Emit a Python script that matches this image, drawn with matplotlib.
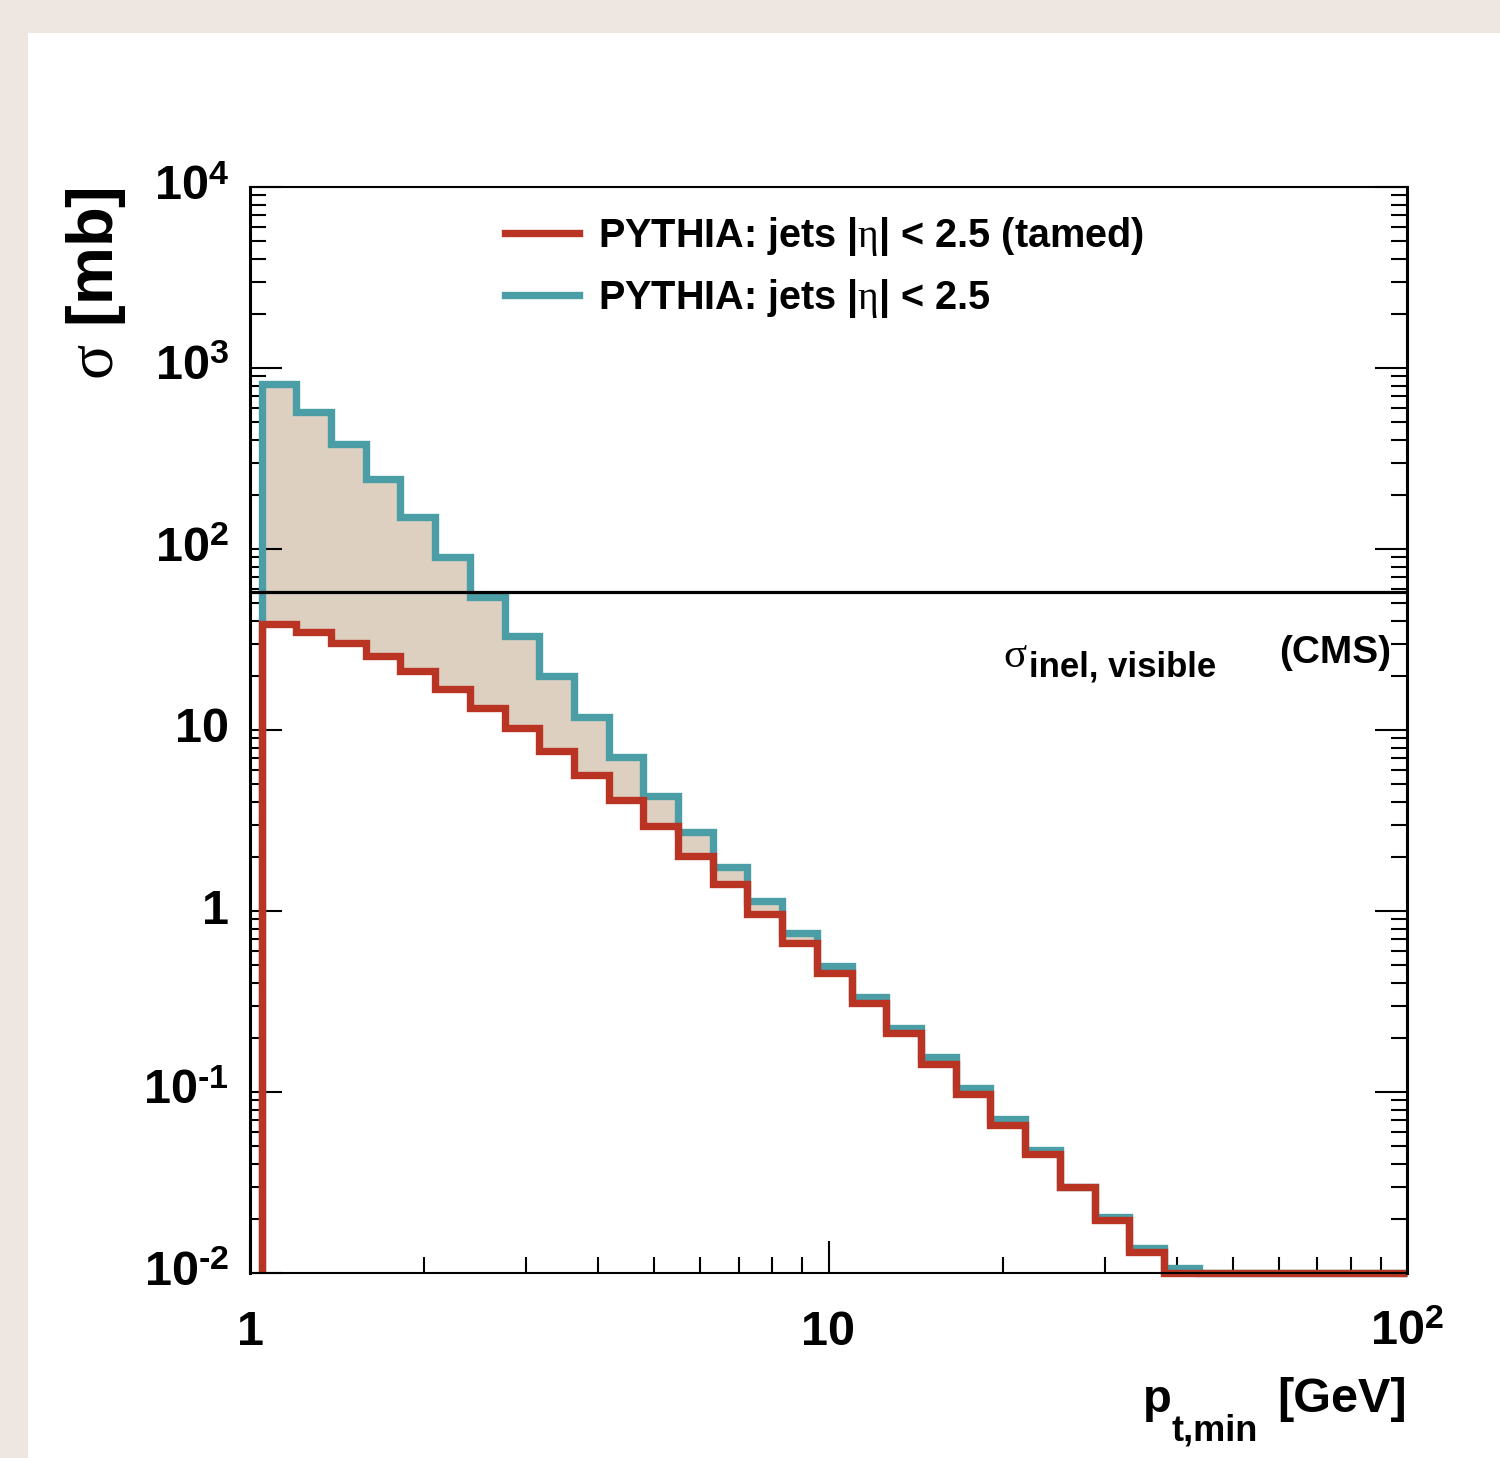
import numpy as np
import matplotlib
matplotlib.use('Agg')
import matplotlib.pyplot as plt
from matplotlib.lines import Line2D
from matplotlib.patches import Rectangle
from matplotlib.ticker import LogLocator, NullFormatter, FixedLocator

# bin edges in p_t,min [GeV] (log spaced), last bin runs to the axis end
edges = [1.047, 1.202, 1.380, 1.585, 1.820, 2.089, 2.399, 2.754, 3.162, 3.631,
         4.169, 4.786, 5.495, 6.310, 7.244, 8.318, 9.550, 10.96, 12.59, 14.45,
         16.60, 19.05, 21.88, 25.12, 28.84, 33.11, 38.02, 43.65, 100.0]

# sigma [mb] per bin
sigma_full = [817, 571, 380, 244, 150, 90, 54, 33, 19.9, 11.8,
              7.1, 4.3, 2.73, 1.75, 1.13, 0.755, 0.497, 0.335, 0.226, 0.156,
              0.105, 0.071, 0.0478, 0.030, 0.0204, 0.0137, 0.0107, 0]
sigma_tamed = [38.5, 34.8, 30.3, 25.7, 21.2, 16.9, 13.2, 10.3, 7.66, 5.64,
               4.1, 2.95, 2.01, 1.41, 0.96, 0.665, 0.454, 0.31, 0.212, 0.143,
               0.0975, 0.0658, 0.0454, 0.0298, 0.0196, 0.0131, 0, 0]
sigma_cms = 58.0

series_labels = [r'PYTHIA: jets |$\eta$| < 2.5 (tamed)', r'PYTHIA: jets |$\eta$| < 2.5']

xticks = [1, 10, 100]
xticklabels = ['1', '10', r'$10^{2}$']
yticks = [1e-2, 1e-1, 1, 10, 1e2, 1e3, 1e4]
yticklabels = ['$10^{\N{HYPHEN}2}$', '$10^{\N{HYPHEN}1}$', '1', '10',
               r'$10^{2}$', r'$10^{3}$', r'$10^{4}$']

plt.rcParams['font.family'] = ['Liberation Sans', 'DejaVu Sans']
plt.rcParams['font.weight'] = 'bold'
plt.rcParams['mathtext.fontset'] = 'custom'
plt.rcParams['mathtext.rm'] = 'Liberation Sans:bold'
plt.rcParams['mathtext.bf'] = 'Liberation Sans:bold'
plt.rcParams['mathtext.sf'] = 'Liberation Sans:bold'
plt.rcParams['mathtext.it'] = 'Liberation Serif:weight=normal'

red = '#B93423'
teal = '#4B9EA6'
tan = '#DDD0C0'
ymin, ymax = 1e-2, 1e4
W, H = 1500, 1458


def fx(px):
    return px / W


def fy(py):
    return 1 - py / H


fig = plt.figure(figsize=(15, 14.58), dpi=100, facecolor='#EEE6E0')
fig.add_artist(Rectangle((fx(28), 0), 1, fy(33), transform=fig.transFigure,
                         facecolor='white', edgecolor='none', zorder=0))
ax = fig.add_axes([fx(250), fy(1273), 1157 / W, 1086 / H])
ax.set_xscale('log')
ax.set_yscale('log')
ax.set_xlim(1, 100)
ax.set_ylim(ymin, ymax)

full = np.maximum(np.array(sigma_full, float), ymin)
tamed = np.maximum(np.array(sigma_tamed, float), ymin)

ax.fill_between(edges, np.append(tamed, tamed[-1]), np.append(full, full[-1]),
                step='post', color=tan, lw=0, zorder=1)
ax.stairs(full, edges, baseline=ymin, color=teal, lw=5.3, zorder=2,
          clip_on=False, joinstyle='miter')
ax.stairs(tamed, edges, baseline=ymin, color=red, lw=5.3, zorder=2.1,
          clip_on=False, joinstyle='miter')
ax.axhline(sigma_cms, color='black', lw=2.3, zorder=2.2)

# ticks, ROOT style
ax.xaxis.set_major_locator(FixedLocator(xticks))
ax.yaxis.set_major_locator(FixedLocator(yticks))
ax.xaxis.set_minor_locator(LogLocator(base=10, subs=np.arange(2, 10), numticks=100))
ax.yaxis.set_minor_locator(LogLocator(base=10, subs=np.arange(2, 10), numticks=100))
ax.xaxis.set_minor_formatter(NullFormatter())
ax.yaxis.set_minor_formatter(NullFormatter())
ax.tick_params(which='both', direction='in', top=False, right=True,
               labelbottom=False, labelleft=False, width=1.5)
ax.tick_params(which='major', length=23)
ax.tick_params(which='minor', length=11.5)
for s in ['left', 'right']:
    ax.spines[s].set_linewidth(2.2)
for s in ['top', 'bottom']:
    ax.spines[s].set_linewidth(1.5)

for x, lab in zip(xticks, xticklabels):
    ax.text(x, -0.0663, lab, transform=ax.get_xaxis_transform(), ha='center',
            va='baseline', fontsize=35, fontweight='bold')
for y, lab in zip(yticks, yticklabels):
    ax.text(-0.0182, y, lab, transform=ax.get_yaxis_transform(), ha='right',
            va='center', fontsize=35, fontweight='bold')

# axis titles
fig.text(fx(96), fy(187), r'$\sigma$ [mb]', rotation=90, ha='center', va='top',
         fontsize=47, fontweight='bold')
fig.text(fx(1143), fy(1412), 'p', ha='left', va='baseline', fontsize=34, fontweight='bold')
fig.text(fx(1172), fy(1441), 't,min', ha='left', va='baseline', fontsize=26,
         fontweight='bold')
fig.text(fx(1407), fy(1412), '[GeV]', ha='right', va='baseline', fontsize=35,
         fontweight='bold')

# sigma_inel, visible (CMS)
fig.text(fx(1003), fy(667), '\N{GREEK SMALL LETTER SIGMA}', ha='left', va='baseline',
         fontsize=31, family='Liberation Serif', fontweight='normal')
fig.text(fx(1029), fy(677), 'inel, visible', ha='left', va='baseline', fontsize=25,
         fontweight='bold')
fig.text(fx(1391), fy(663), '(CMS)', ha='right', va='baseline', fontsize=28,
         fontweight='bold')

handles = [Line2D([], [], color=red, lw=5.3), Line2D([], [], color=teal, lw=5.3)]
ax.legend(handles, series_labels, loc='upper left', bbox_to_anchor=(0.2204, 0.974),
          frameon=False, borderpad=0, borderaxespad=0,
          handlelength=1.86, handletextpad=0.5, labelspacing=0.48,
          prop={'weight': 'bold', 'size': 28.5})

fig.savefig('out.png', dpi=100, facecolor=fig.get_facecolor())
